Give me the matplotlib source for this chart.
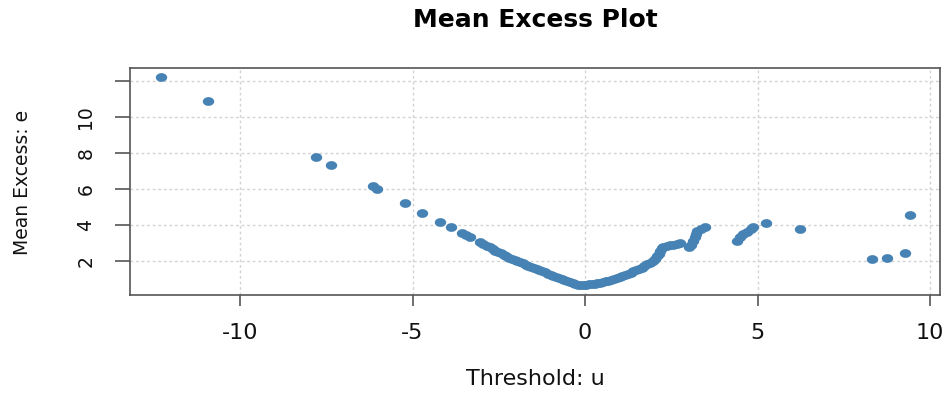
import numpy as np
import matplotlib
matplotlib.use("Agg")
import matplotlib.pyplot as plt
from matplotlib.path import Path

# mean excess values (threshold u, mean excess e)
u_sparse_left = [-12.30, -10.93, -7.80, -7.36, -6.14, -6.03, -5.22, -4.72,
                 -4.20, -3.89, -3.56, -3.45]
e_sparse_left = [12.22, 10.89, 7.74, 7.30, 6.14, 5.98, 5.20, 4.66,
                 4.17, 3.87, 3.52, 3.42]

u_dense_down = [-3.33, -3.04, -2.95, -2.85, -2.76, -2.68, -2.60, -2.52, -2.44,
                -2.36, -2.28, -2.20, -2.12, -2.04, -1.96, -1.88, -1.80, -1.72,
                -1.64, -1.56, -1.48, -1.40, -1.32, -1.24, -1.16, -1.08, -1.00,
                -0.92, -0.84, -0.76, -0.68, -0.60, -0.52, -0.44, -0.36, -0.28,
                -0.20, -0.12]
e_dense_down = [3.30, 3.04, 2.95, 2.84, 2.74, 2.66, 2.57, 2.49, 2.41,
                2.33, 2.25, 2.16, 2.09, 2.03, 1.97, 1.91, 1.85, 1.78,
                1.72, 1.66, 1.60, 1.54, 1.48, 1.41, 1.35, 1.29, 1.23,
                1.17, 1.11, 1.05, 0.99, 0.93, 0.87, 0.81, 0.76, 0.71,
                0.67, 0.64]

u_dense_up = [-0.04, 0.04, 0.12, 0.20, 0.28, 0.36, 0.44, 0.52, 0.60, 0.68,
              0.76, 0.84, 0.92, 1.00, 1.08, 1.16, 1.24, 1.32, 1.40, 1.48,
              1.56, 1.64, 1.72, 1.80, 1.88, 1.96, 2.04, 2.10, 2.14, 2.18,
              2.22, 2.27, 2.37, 2.46, 2.56, 2.66, 2.75, 3.02, 3.08, 3.14,
              3.19, 3.22, 3.26, 3.35, 3.48]
e_dense_up = [0.65, 0.67, 0.69, 0.71, 0.73, 0.76, 0.79, 0.82, 0.86, 0.90,
              0.95, 1.00, 1.05, 1.10, 1.16, 1.22, 1.28, 1.34, 1.41, 1.47,
              1.54, 1.62, 1.71, 1.80, 1.90, 2.01, 2.12, 2.25, 2.40, 2.55,
              2.70, 2.78, 2.84, 2.87, 2.90, 2.94, 2.98, 2.76, 2.88, 3.10,
              3.33, 3.50, 3.65, 3.76, 3.85]

u_sparse_right = [4.40, 4.48, 4.59, 4.70, 4.80, 4.88, 5.24, 6.23,
                  8.31, 8.74, 9.28, 9.42]
e_sparse_right = [3.11, 3.30, 3.50, 3.62, 3.75, 3.88, 4.11, 3.74,
                  2.08, 2.13, 2.44, 4.54]

x_ticks = [-10, -5, 0, 5, 10]
y_ticks = [2, 4, 6, 8, 10, 12]
y_tick_labels = ["2", "4", "6", "8", "10", ""]

u = u_sparse_left + u_dense_down + u_dense_up + u_sparse_right
e = e_sparse_left + e_dense_down + e_dense_up + e_sparse_right

# the reference is stretched sideways, so the dots are slightly wide
t = np.linspace(0, 2 * np.pi, 40)
dot = Path(np.column_stack([1.3 * np.cos(t), np.sin(t)]))

fig = plt.figure(figsize=(9.47, 3.94), dpi=100)
ax = fig.add_axes([130 / 947, 1 - 295 / 394, 810 / 947, 227 / 394])

ax.grid(True, color="#d3d3d3", linestyle=(0, (2, 2)), linewidth=1)
ax.set_axisbelow(True)
ax.plot(u, e, linestyle="none", marker=dot, markersize=8.2,
        color="#4682b4", markeredgewidth=0)

ax.set_xlim(-13.19, 10.29)
ax.set_ylim(0.1, 12.7)
ax.set_xticks(x_ticks)
ax.set_yticks(y_ticks)
ax.set_xticklabels([str(v) for v in x_ticks], fontsize=16)
ax.set_yticklabels(y_tick_labels, fontsize=13.5, rotation=90, va="center")

for s in ax.spines.values():
    s.set_color("#555555")
    s.set_linewidth(1.2)
ax.tick_params(axis="x", length=8, width=1.2, color="#555555", pad=12,
               labelcolor="#111111")
ax.tick_params(axis="y", length=11, width=1.2, color="#555555", pad=14,
               labelcolor="#111111")

fig.text(535 / 947, 1 - 20 / 394, "Mean Excess Plot", ha="center",
         va="center", fontsize=18, fontweight="heavy")
fig.text(535 / 947, 1 - 379 / 394, "Threshold: u", ha="center",
         va="center", fontsize=16, color="#111111")
fig.text(22 / 947, 1 - 182 / 394, "Mean Excess: e", ha="center",
         va="center", fontsize=13.5, rotation=90, color="#111111")

fig.savefig("out.png", dpi=100)
